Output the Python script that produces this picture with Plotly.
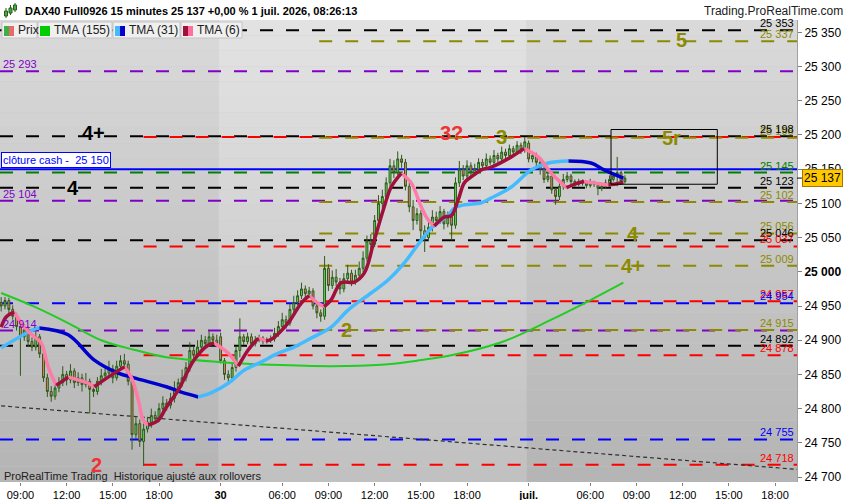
import plotly.graph_objects as go

FONT = "Liberation Sans, Arial, sans-serif"

# 15 minute bars, index 0 = 29 juin 07:45, sessions 02:00 - 22:00
opens = [24955, 24950, 24958, 24945, 24935, 24920, 24905, 24915, 24898, 24890,
         24905, 24880, 24845, 24825, 24818, 24830, 24838, 24850, 24842, 24855,
         24838, 24845, 24835, 24840, 24828, 24825, 24840, 24848, 24852, 24858,
         24845, 24862, 24870, 24865, 24840, 24762, 24778, 24752, 24770, 24780,
         24790, 24785, 24800, 24808, 24805, 24815, 24830, 24838, 24845, 24860,
         24885, 24878, 24890, 24900, 24895, 24905, 24900, 24905, 24870, 24850,
         24845, 24860, 24885, 24905, 24898, 24905, 24895, 24900, 24903, 24898,
         24900, 24902, 24910, 24920, 24930, 24925, 24945, 24955, 24965, 24975,
         24968, 24972, 24950, 24940, 24935, 25005, 24980, 24992, 24985, 24975,
         24990, 24998, 24985, 24995, 25005, 25020, 25045, 25040, 25075, 25100,
         25110, 25130, 25155, 25145, 25165, 25160, 25125, 25095, 25075, 25085,
         25060, 25050, 25065, 25080, 25075, 25088, 25070, 25080, 25068, 25130,
         25150, 25140, 25155, 25145, 25150, 25160, 25155, 25165, 25160, 25170,
         25165, 25175, 25170, 25180, 25175, 25185, 25178, 25188, 25165, 25170,
         25160, 25150, 25135, 25140, 25120, 25110, 25125, 25135, 25140, 25132,
         25128, 25132, 25130, 25126, 25130, 25128, 25122, 25125, 25130, 25135,
         25140, 25145, 25132]
highs = [24963, 24963, 24962, 24951, 24940, 24926, 24923, 24920, 24904, 24913,
         24909, 24885, 24851, 24833, 24840, 24846, 24862, 24855, 24865, 24859,
         24853, 24851, 24852, 24844, 24836, 24846, 24858, 24860, 24870, 24864,
         24870, 24878, 24880, 24870, 24845, 24788, 24784, 24778, 24788, 24800,
         24796, 24808, 24818, 24814, 24823, 24840, 24844, 24857, 24868, 24897,
         24890, 24900, 24908, 24906, 24913, 24910, 24908, 24911, 24874, 24856,
         24866, 24890, 24932, 24909, 24911, 24910, 24906, 24908, 24906, 24904,
         24907, 24918, 24928, 24940, 24936, 24953, 24965, 24973, 24984, 24980,
         24978, 24976, 24956, 24945, 25023, 25011, 25002, 25004, 24991, 24998,
         25010, 25003, 25003, 25015, 25030, 25053, 25055, 25083, 25112, 25120,
         25138, 25165, 25163, 25176, 25171, 25165, 25130, 25105, 25093, 25090,
         25068, 25073, 25090, 25088, 25096, 25092, 25088, 25084, 25138, 25162,
         25156, 25163, 25160, 25158, 25166, 25165, 25173, 25170, 25178, 25174,
         25183, 25180, 25186, 25184, 25191, 25189, 25197, 25192, 25176, 25174,
         25165, 25154, 25145, 25144, 25123, 25130, 25143, 25146, 25143, 25135,
         25136, 25135, 25133, 25136, 25133, 25131, 25128, 25135, 25141, 25145,
         25168, 25148, 25141]
lows = [24942, 24945, 24939, 24930, 24914, 24848, 24899, 24890, 24884, 24885,
        24874, 24839, 24817, 24810, 24813, 24824, 24833, 24834, 24837, 24830,
        24833, 24825, 24831, 24793, 24817, 24820, 24834, 24843, 24848, 24837,
        24841, 24857, 24859, 24834, 24740, 24756, 24744, 24716, 24765, 24772,
        24779, 24780, 24794, 24797, 24800, 24809, 24825, 24832, 24840, 24854,
        24870, 24874, 24884, 24890, 24891, 24892, 24890, 24866, 24842, 24839,
        24841, 24854, 24875, 24893, 24894, 24889, 24891, 24897, 24894, 24895,
        24896, 24898, 24905, 24916, 24917, 24921, 24940, 24951, 24960, 24962,
        24964, 24945, 24932, 24927, 24930, 24972, 24975, 24979, 24967, 24970,
        24984, 24979, 24981, 24990, 24999, 25015, 25032, 25036, 25069, 25092,
        25105, 25124, 25137, 25141, 25152, 25119, 25087, 25061, 25069, 25046,
        25029, 25045, 25059, 25067, 25070, 25062, 25065, 25046, 25063, 25124,
        25134, 25135, 25137, 25140, 25144, 25150, 25149, 25156, 25154, 25160,
        25161, 25164, 25166, 25169, 25171, 25172, 25174, 25160, 25160, 25154,
        25142, 25130, 25131, 25114, 25098, 25105, 25120, 25131, 25127, 25124,
        25125, 25126, 25122, 25123, 25124, 25112, 25118, 25122, 25126, 25132,
        25125, 25128, 25129]
closes = [24950, 24958, 24945, 24935, 24920, 24905, 24915, 24898, 24890, 24905,
          24880, 24845, 24825, 24818, 24830, 24838, 24850, 24842, 24855, 24838,
          24845, 24835, 24840, 24828, 24825, 24840, 24848, 24852, 24858, 24845,
          24862, 24870, 24865, 24840, 24762, 24778, 24752, 24770, 24780, 24790,
          24785, 24800, 24808, 24805, 24815, 24830, 24838, 24845, 24860, 24885,
          24878, 24890, 24900, 24895, 24905, 24900, 24895, 24870, 24850, 24845,
          24860, 24885, 24905, 24898, 24905, 24895, 24900, 24903, 24898, 24900,
          24902, 24910, 24920, 24930, 24925, 24945, 24955, 24965, 24975, 24968,
          24972, 24950, 24940, 24935, 25005, 24980, 24992, 24985, 24975, 24990,
          24998, 24985, 24995, 25005, 25020, 25045, 25040, 25075, 25100, 25110,
          25130, 25155, 25145, 25165, 25160, 25125, 25095, 25075, 25085, 25060,
          25050, 25065, 25080, 25075, 25088, 25070, 25080, 25068, 25130, 25150,
          25140, 25155, 25145, 25150, 25160, 25155, 25165, 25160, 25170, 25165,
          25175, 25170, 25180, 25175, 25185, 25178, 25190, 25165, 25170, 25160,
          25150, 25135, 25140, 25120, 25110, 25125, 25135, 25140, 25132, 25128,
          25132, 25130, 25126, 25130, 25128, 25122, 25125, 25130, 25135, 25140,
          25145, 25132, 25137]
bars = list(range(len(closes)))

tick_bars = [5, 17, 29, 41, 57, 73, 85, 97, 109, 121, 137, 153, 165, 177, 189, 201]
tick_text = ["09:00", "12:00", "15:00", "18:00", "<b>30</b>", "06:00", "09:00", "12:00",
             "15:00", "18:00", "<b>juil.</b>", "06:00", "09:00", "12:00", "15:00", "18:00"]

# moving averages (bar position, value)
tma155_bar = [0, 8.6, 17.4, 26, 34.5, 42.9, 50.1, 59, 70.1, 85.7, 98.7, 109.1, 116.9, 129.9, 142.9, 153.2, 161.6]
tma155_val = [24969, 24949, 24925, 24900, 24886, 24875, 24871, 24867, 24864, 24862, 24864, 24871, 24878, 24897, 24930, 24959, 24984]

tma31_bar = [0, 8.6, 9.9, 17.4, 24.2, 30.4, 34.5, 42.9, 46.8, 51.2, 54.5, 59, 63.1, 67.5, 72, 76.1, 80.5,
             85.7, 90.1, 96.1, 100.5, 104.7, 109.1, 111.7, 116.1, 117.7, 120.3, 124.7, 127.3, 132.5, 137.7,
             142.1, 147.3, 153.2, 156.6, 161.6]
tma31_val = [24889, 24916, 24918, 24908, 24871, 24852, 24845, 24832, 24824, 24817, 24823, 24837, 24856, 24868,
             24881, 24890, 24903, 24919, 24944, 24969, 24988, 25013, 25046, 25064, 25083, 25093, 25098, 25101,
             25108, 25124, 25149, 25159, 25162, 25159, 25149, 25137]

tma6_bar = [0, 1.3, 3.4, 6, 8.6, 10.4, 12.2, 14.3, 17.4, 20, 22.6, 24.2, 27.8, 32, 33.8, 35.6, 36.9, 38.2,
            40.8, 42.9, 46, 50.1, 53.8, 55.3, 59, 61.6, 64.2, 66.8, 68.8, 70.1, 74.5, 77.9, 80, 82.3, 83.9,
            85.7, 88.3, 91.7, 94.3, 96.9, 99.5, 101.3, 103.9, 106.5, 109.1, 110.9, 112.5, 115.1, 116.9, 118.7,
            120.3, 122.9, 124.7, 127.3, 132.5, 135.8, 139.5, 142.9, 146.8, 149.9, 151.4, 154, 157.7, 159.2, 161.6]
tma6_val = [24919, 24934, 24941, 24919, 24905, 24896, 24861, 24834, 24846, 24842, 24837, 24832, 24846, 24861,
            24846, 24813, 24783, 24776, 24783, 24802, 24827, 24871, 24893, 24896, 24881, 24862, 24886, 24903,
            24899, 24901, 24925, 24954, 24965, 24954, 24949, 24959, 24984, 24985, 24998, 25046, 25095, 25124,
            25144, 25130, 25095, 25076, 25067, 25080, 25082, 25105, 25130, 25142, 25149, 25153, 25168, 25180,
            25168, 25144, 25123, 25130, 25132, 25130, 25127, 25128, 25131]

# support / resistance levels
black_levels = [25353, 25198, 25123, 25046, 24892]
olive_levels = [25337, 25196, 25102, 25056, 25009, 24915]
purple_levels = [25293, 25104, 24914]
red_levels = [25197, 25037, 24957, 24878, 24718]
blue_levels = [24954, 24755]
green_levels = [25145]
cash_close = 25150
last_price = 25137

wave_text = ["4+", "4", "2", "2", "3?", "3", "5", "5r", "4", "4+"]
wave_bar = [23.9, 18.7, 24.7, 89.6, 116.9, 129.9, 176.6, 174, 164, 164]
wave_val = [25203, 25122, 24717, 24915, 25203, 25197, 25339, 25196, 25055, 25008]
wave_kind = ["black", "black", "red", "olive", "red", "olive", "olive", "olive", "olive", "olive"]

box_bars = [158.4, 186]
box_vals = [25128, 25208]
trend_bars = [0, 207]
trend_vals = [24804, 24711]

# styling
COL = {"black": "#000000", "olive": "#8c8a00", "purple": "#8000c8", "red": "#ff0000",
       "blue": "#0000ff", "green": "#008000"}
RED_FROM = 37      # red levels start at the "2" low
OLIVE_FROM = 82.6  # olive levels start at the pullback low
X_RANGE = [-0.3, 206.7]
Y_RANGE = [24692.7, 25368.1]
PW, PT, PB = 797, 20, 482


def px(x, y):
    return x / PW, (PB - y) / (PB - PT)


def fmt(v):
    return f"{v:,}".replace(",", " ")


def two_tone(xs, ys):
    up_x, up_y, dn_x, dn_y = [], [], [], []
    prev = None
    for i in range(len(xs) - 1):
        rising = ys[i + 1] >= ys[i]
        tx, ty = (up_x, up_y) if rising else (dn_x, dn_y)
        if prev is not None and prev != rising:
            ox, oy = (dn_x, dn_y) if rising else (up_x, up_y)
            ox.append(None)
            oy.append(None)
        if prev != rising:
            tx.append(xs[i])
            ty.append(ys[i])
        tx.append(xs[i + 1])
        ty.append(ys[i + 1])
        prev = rising
    return (up_x, up_y), (dn_x, dn_y)


shapes = []
# background gradient, day 30 lighter
days = [(-1, 56.5, (218, 180)), (56.5, 136.5, (227, 192)), (136.5, 210, (218, 180))]
n = 30
for x0, x1, (top, bot) in days:
    for k in range(n):
        g = round(bot + (top - bot) * (k + 0.5) / n)
        shapes.append(dict(type="rect", xref="x", yref="paper", x0=x0, x1=x1,
                           y0=k / n, y1=(k + 1) / n, fillcolor=f"rgb({g},{g},{g})",
                           line=dict(width=0), layer="below"))


def level(v, color, start=None):
    shapes.append(dict(type="line", xref="x", yref="y", x0=X_RANGE[0] if start is None else start,
                       x1=X_RANGE[1], y0=v, y1=v, layer="below",
                       line=dict(color=color, width=2, dash="13px,13px")))


for v in purple_levels:
    level(v, COL["purple"])
for v in blue_levels:
    level(v, COL["blue"])
for v in green_levels:
    level(v, COL["green"])
for v in black_levels:
    level(v, COL["black"])
for v in red_levels:
    level(v, COL["red"], RED_FROM)
for v in olive_levels:
    level(v, COL["olive"], OLIVE_FROM)

shapes.append(dict(type="line", xref="x", yref="y", x0=X_RANGE[0], x1=X_RANGE[1],
                   y0=cash_close, y1=cash_close, layer="below", line=dict(color="#0000ff", width=2)))
shapes.append(dict(type="line", xref="x", yref="y", x0=trend_bars[0], x1=trend_bars[1],
                   y0=trend_vals[0], y1=trend_vals[1], layer="below",
                   line=dict(color="#303030", width=1.2, dash="4px,3px")))
shapes.append(dict(type="rect", xref="x", yref="y", x0=box_bars[0], x1=box_bars[1],
                   y0=box_vals[0], y1=box_vals[1], line=dict(color="black", width=1)))

# price tag tick
shapes.append(dict(type="line", xref="paper", yref="y", x0=1, x1=px(803, 0)[0],
                   y0=last_price, y1=last_price, line=dict(color="black", width=1)))

# legend boxes
legend = [("Prix", 2, 37, ("#3cb043", "#e86a6a")), ("TMA (155)", 38, 112, ("#00cc00", "#00cc00")),
          ("TMA (31)", 113, 180, ("#44bbff", "#0000cc")), ("TMA (6)", 181, 242, ("#a0103c", "#ff6f9f"))]
annotations = []
for name, x0, x1, (c1, c2) in legend:
    a, b = px(x0, 22)
    c, d = px(x1, 38)
    shapes.append(dict(type="rect", xref="paper", yref="paper", x0=a, x1=c, y0=d, y1=b,
                       fillcolor="#f0f0f0", line=dict(color="#c4c4c4", width=1)))
    for i, col in enumerate((c1, c2)):
        sa, sb = px(x0 + 2 + i * 5, 26)
        sc, sd = px(x0 + 7 + i * 5, 36)
        shapes.append(dict(type="rect", xref="paper", yref="paper", x0=sa, x1=sc, y0=sd, y1=sb,
                           fillcolor=col, line=dict(width=0)))
    tx, ty = px(x0 + 14, 30)
    annotations.append(dict(xref="paper", yref="paper", x=tx, y=ty, xanchor="left", yanchor="middle",
                            text=name, showarrow=False, font=dict(family=FONT, size=12, color="#202020")))

# small candle icon in the header
for i, (w0, w1, b0, b1) in enumerate([(8, 18, 11, 16), (5, 15, 8, 13), (3, 12, 5, 10)]):
    cx = 6 + i * 4.5
    a, b = px(cx, w0)
    _, d = px(cx, w1)
    shapes.append(dict(type="line", xref="paper", yref="paper", x0=a, x1=a, y0=d, y1=b,
                       line=dict(color="#2d5a1b", width=1)))
    a0, b0p = px(cx - 1.5, b0)
    a1, b1p = px(cx + 1.5, b1)
    shapes.append(dict(type="rect", xref="paper", yref="paper", x0=a0, x1=a1, y0=b1p, y1=b0p,
                       fillcolor="#3cb043", line=dict(color="#2d5a1b", width=1)))

fig = go.Figure()
fig.add_trace(go.Candlestick(
    x=bars, open=opens, high=highs, low=lows, close=closes,
    increasing=dict(line=dict(color="#2d5a1b", width=1), fillcolor="#5cd65c"),
    decreasing=dict(line=dict(color="#2d5a1b", width=1), fillcolor="#f08070"),
    whiskerwidth=0, showlegend=False, hoverinfo="skip"))

fig.add_trace(go.Scatter(x=tma155_bar, y=tma155_val, mode="lines", line=dict(color="#22cc22", width=2, shape="spline"),
                         showlegend=False, hoverinfo="skip"))
for xs, ys, up_col, dn_col, w in [(tma31_bar, tma31_val, "#44bbff", "#0000cc", 3.5),
                                  (tma6_bar, tma6_val, "#a0103c", "#ff7aa6", 3.5)]:
    (ux, uy), (dx, dy) = two_tone(xs, ys)
    fig.add_trace(go.Scatter(x=dx, y=dy, mode="lines", line=dict(color=dn_col, width=w, shape="spline"),
                             showlegend=False, hoverinfo="skip"))
    fig.add_trace(go.Scatter(x=ux, y=uy, mode="lines", line=dict(color=up_col, width=w, shape="spline"),
                             showlegend=False, hoverinfo="skip"))


def right_label(v, color):
    annotations.append(dict(xref="paper", x=1, xanchor="right", xshift=-1, yref="y", y=v, yanchor="bottom",
                            yshift=-1, text=fmt(v), showarrow=False,
                            font=dict(family=FONT, size=11, color=color)))


for v in olive_levels:
    right_label(v, COL["olive"])
for v in black_levels:
    right_label(v, COL["black"])
for v in red_levels[1:]:
    right_label(v, COL["red"])
for v in blue_levels:
    right_label(v, COL["blue"])
for v in green_levels:
    right_label(v, COL["green"])
for v in purple_levels:
    annotations.append(dict(xref="paper", x=0, xanchor="left", xshift=1, yref="y", y=v, yanchor="bottom",
                            yshift=-1, text=fmt(v), showarrow=False,
                            font=dict(family=FONT, size=11, color=COL["purple"])))

annotations.append(dict(xref="paper", x=0, xanchor="left", xshift=1, yref="y", y=cash_close, yanchor="bottom",
                        yshift=1, text="clôture cash -  " + fmt(cash_close), showarrow=False,
                        bgcolor="white", bordercolor="#0000ff", borderwidth=1, borderpad=1,
                        font=dict(family=FONT, size=11, color="#0000ff")))

for t, b, v, k in zip(wave_text, wave_bar, wave_val, wave_kind):
    annotations.append(dict(xref="x", yref="y", x=b, y=v, text=f"<b>{t}</b>", showarrow=False,
                            font=dict(family=FONT, size=20, color=COL[k] if k != "red" else "#ee3333")))

annotations.append(dict(xref="paper", x=1, xanchor="left", xshift=5, yref="y", y=last_price,
                        text=fmt(last_price), showarrow=False, bgcolor="#ffc800", bordercolor="#a07800",
                        borderwidth=1, borderpad=1, font=dict(family=FONT, size=12, color="black")))

hx, hy = px(23, 11)
annotations.append(dict(xref="paper", yref="paper", x=hx, y=hy, xanchor="left", yanchor="middle",
                        text="<b>DAX40 Full0926 15 minutes 25 137 +0,00 % 1 juil. 2026, 08:26:13</b>",
                        showarrow=False, font=dict(family=FONT, size=11, color="black")))
rx, ry = px(845, 11)
annotations.append(dict(xref="paper", yref="paper", x=rx, y=ry, xanchor="right", yanchor="middle",
                        text="Trading.ProRealTime.com", showarrow=False,
                        font=dict(family=FONT, size=12, color="#202020")))
bx, by = px(2, 476)
annotations.append(dict(xref="paper", yref="paper", x=bx, y=by, xanchor="left", yanchor="middle",
                        text="ProRealTime Trading  Historique ajusté aux rollovers", showarrow=False,
                        font=dict(family=FONT, size=11, color="#202020")))

y_ticks = list(range(24700, 25351, 50))
y_text = [f"<b>{fmt(v)}</b>" if v == 25000 else fmt(v) for v in y_ticks]

fig.update_layout(
    width=850, height=500,
    margin=dict(l=0, r=53, t=20, b=18),
    paper_bgcolor="white", plot_bgcolor="#c8c8c8",
    showlegend=False,
    font=dict(family=FONT, color="black"),
    xaxis=dict(range=X_RANGE, tickvals=tick_bars, ticktext=tick_text, ticks="outside", ticklen=3,
               tickcolor="#808080", tickfont=dict(size=11), showgrid=False, zeroline=False,
               rangeslider=dict(visible=False), showline=False),
    yaxis=dict(side="right", range=Y_RANGE, tickvals=y_ticks, ticktext=y_text, ticks="outside", ticklen=4,
               tickcolor="#808080", tickfont=dict(size=12), showgrid=False, zeroline=False,
               showline=True, linecolor="#a0a0a0"),
    shapes=shapes, annotations=annotations,
)

# the page body has a default 8px margin, drop it so the figure fills the window
fig.write_html("out.html", config={"displayModeBar": False},
               post_script="document.body.style.margin='0';document.body.style.overflow='hidden';")
